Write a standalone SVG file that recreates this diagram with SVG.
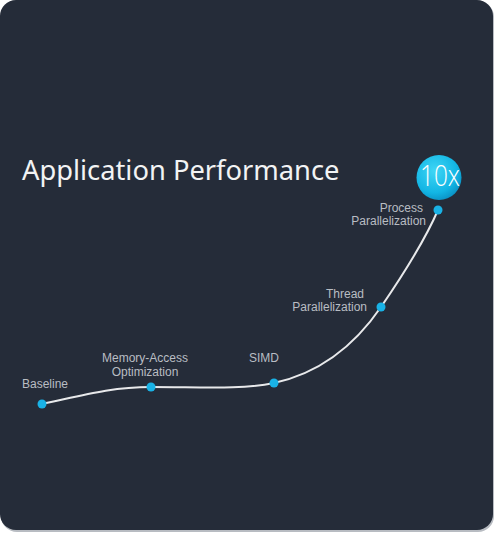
<svg xmlns="http://www.w3.org/2000/svg" width="495" height="533" viewBox="0 0 495 533">
<defs>
<radialGradient id="g10" cx="0.4" cy="0.35" r="0.7">
<stop offset="0" stop-color="#3fd6f5"/>
<stop offset="0.7" stop-color="#12b5e4"/>
<stop offset="1" stop-color="#0a8fc2"/>
</radialGradient>
<style>
.lbl{font-family:"Liberation Sans",Arial,sans-serif;font-size:12px;fill:#b9bdc3}
.dot{fill:#19b2e6}
</style>
</defs>
<rect x="1" y="1" width="493" height="531" rx="16" fill="#b8bcc2"/>
<rect x="0" y="0" width="493" height="530" rx="16" fill="#252c39"/>
<text x="22" y="180" font-family="'Noto Sans','Open Sans',sans-serif" font-size="27.3" fill="#f2f3f4">Application Performance</text>
<g id="connectors">
<path d="M42,404 C80,396 110,387 151,387 C200,387 240,390 274,383 C320,373 355,345 381,307 C405,272 425,240 438,210" fill="none" stroke="#e8e9eb" stroke-width="2"/>
</g>
<g id="baseline"><circle class="dot" cx="42" cy="404" r="4.5"/><text class="lbl" x="22" y="388">Baseline</text></g>
<g id="memory"><circle class="dot" cx="151" cy="387" r="4.5"/><text class="lbl" x="145" y="362" text-anchor="middle">Memory-Access</text><text class="lbl" x="145" y="376" text-anchor="middle">Optimization</text></g>
<g id="simd"><circle class="dot" cx="274" cy="383" r="4.5"/><text class="lbl" x="264" y="362" text-anchor="middle">SIMD</text></g>
<g id="thread"><circle class="dot" cx="381" cy="307" r="4.5"/><text class="lbl" x="364" y="298" text-anchor="end">Thread</text><text class="lbl" x="367" y="311" text-anchor="end">Parallelization</text></g>
<g id="process"><circle class="dot" cx="438" cy="210" r="4.5"/><text class="lbl" x="423" y="212" text-anchor="end">Process</text><text class="lbl" x="426" y="225" text-anchor="end">Parallelization</text></g>
<g id="tenx"><circle cx="439" cy="177.5" r="22.5" fill="url(#g10)"/><text x="420" y="186" textLength="40" lengthAdjust="spacingAndGlyphs" font-family="'Open Sans','Liberation Sans',sans-serif" font-weight="300" font-size="29" fill="#ffffff">10x</text></g>
</svg>
